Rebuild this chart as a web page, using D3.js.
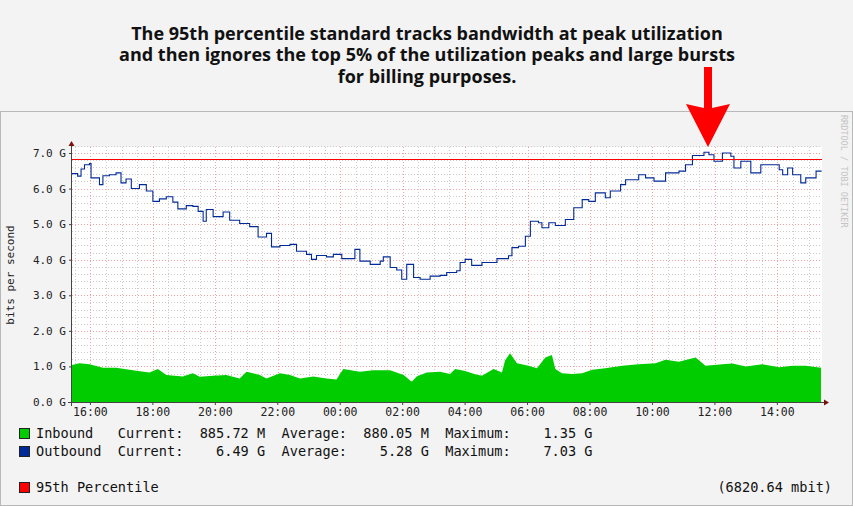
<!DOCTYPE html>
<html><head><meta charset="utf-8">
<script src="https://cdn.jsdelivr.net/npm/d3@7"></script>
<style>body{margin:0;background:#f3f3f3}svg{display:block}</style>
</head><body><svg id="c" width="853" height="506"></svg>
<script>
// hours since 15:00 of day 1
const outHours=[0.41,0.59,0.70,0.81,0.97,1.02,1.29,1.40,1.61,1.82,1.98,2.14,2.31,2.57,2.79,3.00,3.21,3.43,3.64,3.80,4.07,4.28,4.45,4.61,4.71,4.93,5.25,5.46,5.78,6.10,6.37,6.64,6.80,7.07,7.39,7.60,7.92,8.08,8.24,8.56,8.78,9.05,9.31,9.47,9.63,9.96,10.28,10.38,10.60,10.81,10.97,11.13,11.35,11.56,11.88,12.20,12.41,12.73,12.84,13.00,13.21,13.54,13.86,14.02,14.39,14.50,14.71,14.93,15.09,15.35,15.46,15.68,15.89,16.21,16.48,16.75,16.96,17.17,17.49,17.65,17.98,18.14,18.56,18.78,19.05,19.42,19.85,20.06,20.28,20.65,20.81,20.97,21.24,21.51,21.61,21.83,22.15,22.47,22.84,23.06,23.17,23.33,23.49,23.75,23.91,24.24,24.40];
const outbound=[6.42,6.35,6.55,6.67,6.70,6.30,6.11,6.36,6.39,6.44,6.16,6.27,6.00,6.11,5.93,5.64,5.71,5.77,5.62,5.43,5.52,5.50,5.36,5.08,5.41,5.21,5.34,5.11,5.02,4.93,4.64,4.74,4.36,4.40,4.43,4.24,4.15,4.01,4.12,4.08,4.15,4.03,4.03,4.29,3.96,3.87,3.96,4.08,3.78,3.71,3.45,3.87,3.50,3.45,3.54,3.56,3.64,3.69,3.92,4.01,3.84,3.92,3.92,4.03,4.11,4.34,4.38,4.66,5.08,5.04,4.90,5.04,4.96,5.13,5.46,5.69,5.64,5.88,5.74,5.93,6.11,6.25,6.39,6.30,6.21,6.44,6.49,6.67,6.93,7.02,6.95,6.77,7.00,6.91,6.58,6.77,6.44,6.67,6.67,6.53,6.39,6.58,6.39,6.16,6.30,6.49,6.51];
const inHours=[0.41,0.65,0.97,1.40,1.82,2.47,2.89,3.16,3.43,3.96,4.28,4.50,4.93,5.35,5.78,6.00,6.42,6.64,7.07,7.39,7.71,8.14,8.56,8.88,9.10,9.63,10.06,10.60,11.03,11.29,11.45,11.77,12.20,12.52,12.68,13.00,13.32,13.54,13.91,14.18,14.28,14.44,14.66,15.03,15.30,15.57,15.78,15.89,16.10,16.42,16.75,17.07,17.49,18.03,18.56,19.10,19.42,19.85,20.38,20.70,21.24,21.56,21.99,22.52,23.06,23.49,23.91,24.40];
const inbound=[1.04,1.09,1.06,0.96,0.96,0.88,0.83,0.93,0.76,0.72,0.81,0.71,0.74,0.76,0.66,0.85,0.76,0.66,0.81,0.76,0.66,0.72,0.66,0.63,0.93,0.85,0.89,0.89,0.76,0.57,0.72,0.83,0.85,0.79,0.93,0.87,0.78,0.74,0.93,0.83,1.17,1.37,1.09,1.02,0.95,1.25,1.32,0.93,0.81,0.79,0.81,0.91,0.95,1.02,1.06,1.09,1.19,1.13,1.25,1.02,1.06,1.08,1.00,1.06,0.98,1.02,1.02,0.96];
const percentile95=6.82064;
const yTicks=[0,1,2,3,4,5,6,7];
const xTickHours=[1,3,5,7,9,11,13,15,17,19,21,23];
const xTickLabels=["16:00","18:00","20:00","22:00","00:00","02:00","04:00","06:00","08:00","10:00","12:00","14:00"];
const titleLines=["The 95th percentile standard tracks bandwidth at peak utilization","and then ignores the top 5% of the utilization peaks and large bursts","for billing purposes."];
const legendRows=[
 {color:"#00cc00",text:"Inbound   Current:  885.72 M  Average:  880.05 M  Maximum:    1.35 G"},
 {color:"#002a97",text:"Outbound  Current:    6.49 G  Average:    5.28 G  Maximum:    7.03 G"}];

const svg=d3.select("#c");
const L=72,R=822,T=147,B=402;
const x=d3.scaleLinear().domain([0.41,24.43]).range([L,R]);
const y=d3.scaleLinear().domain([0,7]).range([B,153]);
const mono="DejaVu Sans Mono, monospace";

svg.append("rect").attr("x",0).attr("y",0).attr("width",853).attr("height",506).attr("fill","#f3f3f3");
svg.append("rect").attr("x",0.5).attr("y",111.5).attr("width",852).attr("height",394).attr("fill","#f3f3f3").attr("stroke","#b8b8b8");
titleLines.forEach((t,i)=>svg.append("text").attr("x",427).attr("y",39.5+i*21.5).attr("text-anchor","middle")
 .attr("font-family","Open Sans, sans-serif").attr("font-weight","bold").attr("font-size",18).attr("fill","#111").text(t));

svg.append("rect").attr("x",L).attr("y",T).attr("width",R-L).attr("height",B-T).attr("fill","#fff");
const g=svg.append("g");
d3.range(0,7.21,0.2).forEach(v=>{ if(Math.abs(v-Math.round(v))>0.01)
 g.append("line").attr("x1",L).attr("x2",R).attr("y1",Math.round(y(v))+0.5).attr("y2",Math.round(y(v))+0.5).attr("stroke","#ccc").attr("stroke-dasharray","1,2");});
d3.range(0.5,24.4,0.5).forEach(h=>{ if(Math.abs((h-1)/2-Math.round((h-1)/2))>0.01)
 g.append("line").attr("x1",Math.round(x(h))+0.5).attr("x2",Math.round(x(h))+0.5).attr("y1",T).attr("y2",B).attr("stroke","#ccc").attr("stroke-dasharray","1,2");});
yTicks.forEach(v=>g.append("line").attr("x1",L).attr("x2",R).attr("y1",Math.round(y(v))+0.5).attr("y2",Math.round(y(v))+0.5).attr("stroke","#f0a0a0").attr("stroke-dasharray","1,2"));
xTickHours.forEach(h=>g.append("line").attr("x1",Math.round(x(h))+0.5).attr("x2",Math.round(x(h))+0.5).attr("y1",T).attr("y2",B).attr("stroke","#f0a0a0").attr("stroke-dasharray","1,2"));

const inData=inHours.map((h,i)=>[h,inbound[i]]);
svg.append("path").datum(inData).attr("fill","#00cc00")
 .attr("d",d3.area().x(d=>x(d[0])).y0(y(0)).y1(d=>y(d[1])));
const outData=outHours.map((h,i)=>[h,outbound[i]]);
svg.append("path").datum(outData).attr("fill","none").attr("stroke","#002a97").attr("stroke-width",1.1)
 .attr("d",d3.line().x(d=>x(d[0])).y(d=>y(d[1])).curve(d3.curveStepAfter));
const py=Math.round(y(percentile95))+0.5;
svg.append("line").attr("x1",L).attr("x2",R).attr("y1",py).attr("y2",py).attr("stroke","#ff0000").attr("stroke-width",1);

svg.append("line").attr("x1",L-0.5).attr("x2",L-0.5).attr("y1",T-3).attr("y2",B+4).attr("stroke","#444");
svg.append("line").attr("x1",L-4).attr("x2",R+4).attr("y1",B+0.5).attr("y2",B+0.5).attr("stroke","#444");
svg.append("path").attr("d",`M${L-3.5},${T-1}L${L-0.5},${T-6}L${L+2.5},${T-1}Z`).attr("fill","#7a1010");
svg.append("path").attr("d",`M${R+2},${B-2.5}L${R+7},${B+0.5}L${R+2},${B+3.5}Z`).attr("fill","#7a1010");
yTicks.forEach(v=>{svg.append("line").attr("x1",L-3).attr("x2",L).attr("y1",y(v)+0.5).attr("y2",y(v)+0.5).attr("stroke","#444");
 svg.append("text").attr("x",66).attr("y",y(v)+4).attr("text-anchor","end").attr("font-family",mono).attr("font-size",11).attr("fill","#222").text(v.toFixed(1)+" G");});
xTickHours.forEach((h,i)=>{svg.append("line").attr("x1",x(h)).attr("x2",x(h)).attr("y1",B).attr("y2",B+3).attr("stroke","#444");
 svg.append("text").attr("x",x(h)).attr("y",416).attr("text-anchor","middle").attr("font-family",mono).attr("font-size",11.5).attr("fill","#222").text(xTickLabels[i]);});
svg.append("text").attr("transform","translate(14,275) rotate(-90)").attr("text-anchor","middle").attr("font-family",mono).attr("font-size",11).attr("fill","#222").text("bits per second");
svg.append("text").attr("transform","translate(841,115) rotate(90)").attr("font-family",mono).attr("font-size",8.5).attr("fill","#c4c4c4").text("RRDTOOL / TOBI OETIKER");

legendRows.forEach((r,i)=>{const yy=438+i*18;
 svg.append("rect").attr("x",19.5).attr("y",yy-9.5).attr("width",10).attr("height",10).attr("fill",r.color).attr("stroke","#222");
 svg.append("text").attr("x",36).attr("y",yy).attr("xml:space","preserve").style("white-space","pre").attr("font-family",mono).attr("font-size",13.6).attr("fill","#111").text(r.text);});
svg.append("rect").attr("x",19.5).attr("y",482.5).attr("width",10).attr("height",10).attr("fill","#ff0000").attr("stroke","#222");
svg.append("text").attr("x",36).attr("y",492).attr("font-family",mono).attr("font-size",13.6).attr("fill","#111").text("95th Percentile");
svg.append("text").attr("x",832).attr("y",492).attr("text-anchor","end").attr("font-family",mono).attr("font-size",13.6).attr("fill","#111").text("(6820.64 mbit)");

svg.append("path").attr("d","M704,67L712,67L712,108L730,104L708,147L686,104L704,108Z").attr("fill","#ff0000");
</script></body></html>
